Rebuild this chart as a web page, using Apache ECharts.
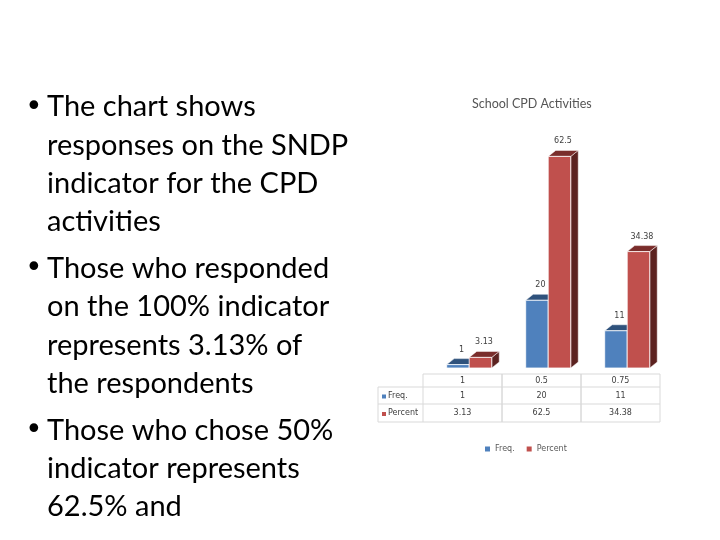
<!DOCTYPE html>
<html>
<head>
<meta charset="utf-8">
<script src="https://cdn.jsdelivr.net/npm/echarts@6/dist/echarts.min.js"></script>
<style>
  html, body { margin: 0; padding: 0; background: #fff; }
  #main { width: 720px; height: 540px; }
</style>
</head>
<body>
<div id="main"></div>
<script>
// chart data
const categories = ['1', '0.5', '0.75']
const freq = [1, 20, 11]
const percent = [3.13, 62.5, 34.38]
const seriesNames = ['Freq.', 'Percent']

// slide text
const bullets = [
  ['The chart shows', 'responses on the SNDP', 'indicator for the CPD', 'activities'],
  ['Those who responded', 'on the 100% indicator', 'represents 3.13% of', 'the respondents'],
  ['Those who chose 50%', 'indicator represents', '62.5% and']
]

const colors = [
  { front: '#4F81BD', top: '#2F527C', side: '#2A4870' },
  { front: '#C0504D', top: '#7A2D2B', side: '#5C2220' }
]

const chart = echarts.init(document.getElementById('main'))

// bullet lines as graphic text
const textEls = []
let y = 107
bullets.forEach((lines, b) => {
  lines.forEach((line, k) => {
    if (k === 0) {
      textEls.push({
        type: 'text', x: 25, y: y + 1,
        style: { text: '•', font: '30px "DejaVu Sans"', fill: '#000', verticalAlign: 'middle' }
      })
    }
    textEls.push({
      type: 'text', x: 47, y: y,
      style: { text: line, font: '29px Lato', fill: '#000', verticalAlign: 'middle' }
    })
    y += 38.3
  })
  y += 8.5
})

// 3D-ish bar drawn from axis coords
const bar3d = (s) => (params, api) => {
  const i = api.value(0)
  const v = api.value(1)
  const base = api.coord([i, 0])
  const top = api.coord([i, v])
  const band = api.size([1, 0])[0]
  const w = band * 0.285
  const x0 = base[0] - band * 0.2 + s * w
  const x1 = x0 + w
  const y0 = base[1]
  const y1 = top[1]
  const dx = 7.5, dy = 6
  const c = colors[s]
  return {
    type: 'group',
    children: [
      { type: 'polygon', shape: { points: [[x1, y1], [x1 + dx, y1 - dy], [x1 + dx, y0 - dy], [x1, y0]] },
        style: { fill: c.side, stroke: '#fff', lineWidth: 0.5 } },
      { type: 'polygon', shape: { points: [[x0, y1], [x0 + dx, y1 - dy], [x1 + dx, y1 - dy], [x1, y1]] },
        style: { fill: c.top, stroke: '#fff', lineWidth: 0.5 } },
      { type: 'rect', shape: { x: x0, y: y1, width: w, height: y0 - y1 },
        style: { fill: c.front, stroke: '#fff', lineWidth: 0.8 } },
      { type: 'text', x: x0 + w / 2 + 3.5, y: y1 - 15,
        style: { text: String(v), align: 'center', verticalAlign: 'middle', font: '8px "DejaVu Sans"', fill: '#404040' } }
    ]
  }
}

// data table under the bars
const lineStyle = { stroke: '#D9D9D9', lineWidth: 1 }
const cellText = (t, x, yy) => ({
  type: 'text', x: x, y: yy,
  style: { text: t, align: 'center', verticalAlign: 'middle', font: '8px "DejaVu Sans"', fill: '#404040' }
})
const tableItem = (params, api) => {
  const i = api.value(0)
  const base = api.coord([i, 0])
  const band = api.size([1, 0])[0]
  const cx = base[0]
  const xl = cx - band / 2, xr = cx + band / 2
  const r0 = base[1] + 6, r1 = base[1] + 19, r2 = base[1] + 36, r3 = base[1] + 54
  const ch = [
    { type: 'line', shape: { x1: xl, y1: r0, x2: xr, y2: r0 }, style: lineStyle },
    { type: 'line', shape: { x1: xl, y1: r1, x2: xr, y2: r1 }, style: lineStyle },
    { type: 'line', shape: { x1: xl, y1: r2, x2: xr, y2: r2 }, style: lineStyle },
    { type: 'line', shape: { x1: xl, y1: r3, x2: xr, y2: r3 }, style: lineStyle },
    { type: 'line', shape: { x1: xl, y1: r0, x2: xl, y2: r3 }, style: lineStyle },
    { type: 'line', shape: { x1: xr, y1: r0, x2: xr, y2: r3 }, style: lineStyle },
    cellText(categories[i], cx, (r0 + r1) / 2),
    cellText(String(freq[i]), cx, (r1 + r2) / 2),
    cellText(String(percent[i]), cx, (r2 + r3) / 2)
  ]
  if (i === 0) {
    const lx = xl - 45
    ch.push(
      { type: 'line', shape: { x1: lx, y1: r1, x2: xl, y2: r1 }, style: lineStyle },
      { type: 'line', shape: { x1: lx, y1: r2, x2: xl, y2: r2 }, style: lineStyle },
      { type: 'line', shape: { x1: lx, y1: r3, x2: xl, y2: r3 }, style: lineStyle },
      { type: 'line', shape: { x1: lx, y1: r1, x2: lx, y2: r3 }, style: lineStyle }
    )
    seriesNames.forEach((n, s) => {
      const ym = s === 0 ? (r1 + r2) / 2 : (r2 + r3) / 2
      ch.push(
        { type: 'rect', shape: { x: lx + 4, y: ym - 1, width: 4, height: 4 }, style: { fill: colors[s].front } },
        { type: 'text', x: lx + 10, y: ym, style: { text: n, align: 'left', verticalAlign: 'middle', font: '8px "DejaVu Sans"', fill: '#404040' } }
      )
    })
  }
  return { type: 'group', children: ch }
}

const option = {
  animation: false,
  title: {
    text: 'School CPD Activities',
    left: 467,
    top: 92,
    textStyle: { fontSize: 12.5, fontWeight: 'normal', color: '#555', fontFamily: 'Lato' }
  },
  legend: {
    data: seriesNames,
    top: 440,
    left: 480,
    icon: 'rect',
    itemWidth: 5,
    itemHeight: 5,
    itemGap: 12,
    textStyle: { fontSize: 8, color: '#595959', fontFamily: 'DejaVu Sans' }
  },
  grid: { left: 423, top: 131, width: 237, height: 237 },
  xAxis: { type: 'category', data: categories, show: false },
  yAxis: { type: 'value', min: 0, max: 70, show: false },
  graphic: textEls,
  series: [
    {
      name: 'Freq.', type: 'custom', clip: false,
      itemStyle: { color: colors[0].front },
      renderItem: bar3d(0),
      data: freq.map((v, i) => [i, v])
    },
    {
      name: 'Percent', type: 'custom', clip: false,
      itemStyle: { color: colors[1].front },
      renderItem: bar3d(1),
      data: percent.map((v, i) => [i, v])
    },
    {
      name: 'table', type: 'custom', clip: false, silent: true,
      renderItem: tableItem,
      data: categories.map((c, i) => [i, 0])
    }
  ]
}

chart.setOption(option)
</script>
</body>
</html>
